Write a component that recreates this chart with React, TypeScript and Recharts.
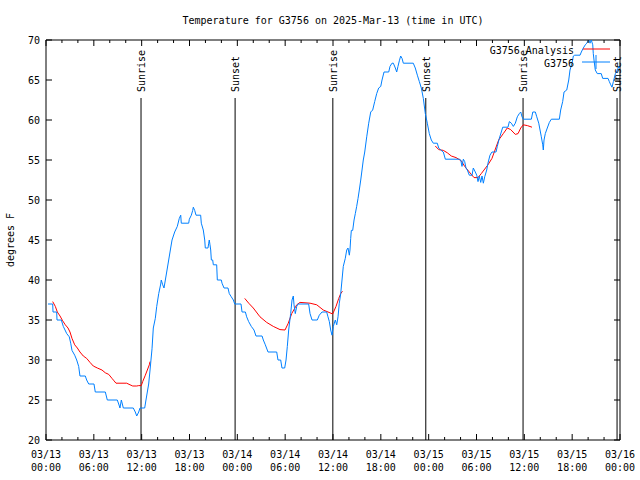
import { LineChart, Line, XAxis, YAxis, ReferenceLine, ReferenceArea } from 'recharts'

const FONT = '"DejaVu Sans Mono", "Liberation Mono", monospace'
const PLOT_LEFT = 46
const PLOT_RIGHT = 620
const PLOT_TOP = 40
const PLOT_BOTTOM = 440

// hours since 03/13 00:00 UTC
const xTicks = [0, 2, 4, 6, 8, 10, 12, 14, 16, 18, 20, 22, 24, 26, 28, 30, 32, 34, 36, 38, 40, 42, 44, 46, 48, 50, 52, 54, 56, 58, 60, 62, 64, 66, 68, 70, 72]
const tickDates = ['03/13', '03/13', '03/13', '03/13', '03/14', '03/14', '03/14', '03/14', '03/15', '03/15', '03/15', '03/15', '03/16']
const tickTimes = ['00:00', '06:00', '12:00', '18:00', '00:00', '06:00', '12:00', '18:00', '00:00', '06:00', '12:00', '18:00', '00:00']
const yTicks = [20, 25, 30, 35, 40, 45, 50, 55, 60, 65, 70]

const sunTimes = [11.92, 23.72, 35.98, 47.64, 59.84, 71.63]
const sunLabels = ['Sunrise', 'Sunset', 'Sunrise', 'Sunset', 'Sunrise', 'Sunset']
const SUN_LINE_TOP = 62.75

// observed temperature [hour, degF]
const observed: [number, number][] = [
  [0.25, 37], [0.84, 37], [0.88, 36], [1.34, 36], [1.38, 35], [1.92, 35], [2.17, 34.2], [2.6, 33.3],
  [2.92, 32.9], [3.1, 32.1], [3.26, 31.2], [3.6, 30.6], [3.85, 30], [4.1, 29.2], [4.26, 28], [4.93, 28],
  [5.1, 27.5], [5.36, 27], [6.02, 27], [6.18, 26], [7.44, 26], [7.69, 25], [8.94, 25], [9.12, 24.5],
  [9.28, 24], [9.45, 25], [9.7, 24], [10.95, 24], [11.2, 23.5], [11.38, 23], [11.63, 23.5], [11.79, 24],
  [12.38, 24], [12.54, 25], [12.71, 26], [12.88, 27], [13.05, 28.75], [13.3, 31.4], [13.46, 34], [13.71, 35.2],
  [13.89, 36.7], [14.14, 38.3], [14.39, 39.5], [14.46, 40], [14.64, 39.4], [14.8, 39], [14.97, 40], [15.14, 41],
  [15.39, 42.5], [15.64, 44], [15.81, 45], [16.14, 46], [16.47, 46.7], [16.72, 47.7], [16.9, 48.1], [16.97, 47.1],
  [17.9, 47.1], [17.98, 47.6], [18.23, 48.1], [18.4, 48.7], [18.48, 49.1], [18.65, 48.7], [18.82, 48.1], [19.4, 48.1],
  [19.48, 47.1], [19.73, 46.25], [19.91, 45], [19.98, 44], [20.32, 44], [20.41, 44.6], [20.48, 45], [20.57, 44.4],
  [20.66, 43.75], [20.74, 42.5], [20.91, 42.5], [20.99, 41.9], [21.41, 41.9], [21.49, 40], [21.99, 40], [22.08, 39.6],
  [22.33, 39], [22.83, 39], [22.99, 38.3], [23.24, 37.9], [23.5, 37.5], [23.67, 37], [24.46, 37], [24.59, 36],
  [25.01, 36], [25.17, 35.4], [25.42, 34.8], [25.75, 34.2], [26.09, 33.75], [26.34, 33], [27.1, 33], [27.26, 32.5],
  [27.51, 31.9], [27.85, 31], [28.94, 31], [29.1, 30], [29.44, 30], [29.6, 29], [29.94, 29], [30.11, 30],
  [30.27, 31.7], [30.44, 33.75], [30.69, 35.8], [30.86, 37.5], [31.02, 38], [31.11, 36.9], [31.27, 35.8], [31.45, 36.7],
  [31.61, 37], [32.95, 37], [33.12, 35.8], [33.37, 35], [34.03, 35], [34.28, 35.6], [34.62, 36], [35.21, 36],
  [35.37, 35.4], [35.54, 34.8], [35.71, 33.75], [35.88, 33.1], [36.04, 34.2], [36.29, 35], [36.47, 34.4], [36.63, 35.4],
  [36.79, 37.1], [36.97, 38.3], [37.13, 40], [37.29, 41.7], [37.54, 42.7], [37.72, 43.75], [37.88, 44], [38.05, 43.1],
  [38.13, 43.75], [38.22, 45.2], [38.3, 46.2], [38.47, 46.2], [38.64, 47.5], [38.8, 48.3], [38.97, 49.2], [39.14, 50.2],
  [39.3, 51.25], [39.48, 52.5], [39.64, 53.75], [39.8, 55], [39.98, 56], [40.23, 57.9], [40.48, 59.6], [40.73, 61],
  [40.98, 61.25], [41.23, 62.3], [41.48, 63.3], [41.73, 64], [41.99, 64.2], [42.15, 65], [42.4, 66], [42.99, 66],
  [43.15, 66.7], [43.4, 67.1], [43.57, 67.1], [43.82, 66.5], [43.99, 66], [44.15, 66.7], [44.32, 67.4], [44.49, 68],
  [44.66, 67.7], [44.82, 67.1], [46.07, 67.1], [46.32, 66.5], [46.58, 65.6], [46.83, 64.8], [47.08, 64], [47.33, 62.7],
  [47.58, 60.8], [47.83, 59.6], [48.08, 58.3], [48.33, 57.5], [48.58, 57.1], [49.08, 57.1], [49.26, 56.5], [49.51, 56.25],
  [49.84, 56], [50.09, 55.1], [51.84, 55.1], [52.02, 55], [52.18, 54.2], [52.35, 55.1], [52.52, 54.8], [52.68, 54],
  [52.85, 53.75], [53.1, 53.1], [53.44, 53.1], [53.6, 54], [53.85, 53.5], [54.03, 53.1], [54.19, 52.3], [54.35, 53],
  [54.53, 52.2], [54.69, 53], [54.86, 52.1], [55.03, 52.9], [55.28, 53.75], [55.44, 54.6], [55.69, 55.6], [55.94, 56],
  [56.45, 56], [56.61, 56.7], [56.86, 57.7], [57.11, 58.5], [57.29, 59.1], [57.95, 59.1], [58.12, 59.8], [58.37, 59.6],
  [58.62, 59.2], [58.87, 59.6], [59.12, 60.4], [59.37, 60.8], [59.55, 61], [59.71, 60.4], [59.87, 60.1], [60.88, 60.1],
  [61.06, 61], [61.38, 61], [61.56, 60.4], [61.81, 59.6], [61.97, 58.75], [62.13, 57.9], [62.31, 56.9], [62.38, 56.25],
  [62.47, 57.5], [62.63, 58.3], [62.88, 59], [63.14, 59.7], [63.39, 60.1], [64.39, 60.1], [64.56, 61.25], [64.81, 62.3],
  [64.98, 63.5], [65.32, 63.75], [65.57, 65], [65.73, 66.25], [65.98, 67.1], [66.15, 68], [66.32, 68.1], [66.99, 68.1],
  [67.15, 68.5], [67.4, 69], [67.65, 69.4], [67.83, 69.6], [68.08, 70], [68.24, 69.6], [68.4, 70], [68.58, 69.4],
  [68.65, 68.3], [68.74, 67.5], [68.9, 66.25], [69.15, 65.8], [69.65, 65.8], [69.83, 65.2], [70.5, 65.2], [70.66, 64.8],
  [70.84, 64.4], [71.0, 64.1], [71.17, 64.8], [71.42, 65.8], [71.67, 66.25], [71.85, 66.7], [72.0, 66.5],
]

// model analysis, three separate runs
const analysisDay1: [number, number][] = [
  [0.84, 37.3], [1.17, 36.7], [1.42, 36], [1.76, 35.5], [2.09, 34.9], [2.42, 34.4], [2.76, 34], [3.01, 33.5],
  [3.26, 32.7], [3.6, 31.9], [3.93, 31.5], [4.26, 31], [4.68, 30.5], [5.1, 30.2], [5.52, 29.7], [5.93, 29.25],
  [6.44, 29], [7.02, 28.75], [7.44, 28.4], [7.87, 28.2], [8.28, 27.7], [8.53, 27.4], [8.78, 27.1], [10.12, 27.1],
  [10.54, 26.9], [10.88, 26.75], [11.38, 26.75], [11.63, 26.8], [11.95, 26.8], [12.13, 27.3], [12.46, 28.1], [12.71, 28.75],
  [12.96, 29.4], [13.05, 29.8],
]
const analysisDay2: [number, number][] = [
  [24.93, 37.7], [25.43, 37.1], [26.0, 36.5], [26.84, 35.4], [27.68, 34.7], [28.51, 34.2], [29.35, 33.8], [29.98, 33.75],
  [30.39, 34.6], [30.82, 35.8], [31.45, 36.9], [31.86, 37.2], [33.12, 37.1], [33.96, 36.9], [34.78, 36.25], [35.62, 35.9],
  [35.96, 35.75], [36.38, 36.7], [36.72, 37.7], [36.97, 38.3], [37.19, 38.6],
]
const analysisDay3: [number, number][] = [
  [48.83, 56.75], [49.26, 56.3], [49.84, 56.2], [50.34, 55.9], [50.84, 55.5], [51.43, 55.3], [52.09, 54.9], [52.52, 54.2],
  [53.1, 53.5], [53.69, 52.8], [54.19, 52.8], [54.6, 53.3], [54.94, 53.75], [55.44, 54.4], [55.94, 55.2], [56.78, 57.5],
  [57.36, 58.3], [57.86, 59], [58.29, 58.8], [58.87, 58.2], [59.21, 58.3], [59.55, 59], [59.87, 59.4], [60.38, 59.3],
  [60.96, 59.1],
]

const toRows = (pts: [number, number][]) => pts.map(([t, v]) => ({ t, v }))

const XTick = ({ x, payload }: any) => {
  const h = payload.value as number
  const major = h % 6 === 0
  const len = major ? 6 : 3
  const i = h / 6
  return (
    <g>
      <line x1={x} x2={x} y1={PLOT_BOTTOM} y2={PLOT_BOTTOM - len} stroke="#000" />
      <line x1={x} x2={x} y1={PLOT_TOP} y2={PLOT_TOP + len} stroke="#000" />
      {major && (
        <text textAnchor="middle" fontFamily={FONT} fontSize={10} fill="#000">
          <tspan x={x} y={PLOT_BOTTOM + 18}>{tickDates[i]}</tspan>
          <tspan x={x} y={PLOT_BOTTOM + 31}>{tickTimes[i]}</tspan>
        </text>
      )}
    </g>
  )
}

const YTick = ({ y, payload }: any) => (
  <g>
    <line x1={PLOT_LEFT} x2={PLOT_LEFT + 6} y1={y} y2={y} stroke="#000" />
    <line x1={PLOT_RIGHT} x2={PLOT_RIGHT - 6} y1={y} y2={y} stroke="#000" />
    <text x={PLOT_LEFT - 6} y={y + 4} textAnchor="end" fontFamily={FONT} fontSize={10} fill="#000">
      {payload.value}
    </text>
  </g>
)

const YLabel = ({ viewBox }: any) => {
  const cy = (viewBox?.y ?? PLOT_TOP) + (viewBox?.height ?? 400) / 2
  return (
    <text x={14} y={cy} transform={`rotate(-90 14 ${cy})`} textAnchor="middle" fontFamily={FONT} fontSize={10} fill="#000">
      degrees F
    </text>
  )
}

const SunLabel = ({ viewBox, text }: any) => {
  const x = (viewBox?.x ?? 0) + 4
  const y = (viewBox?.y ?? 98) - 6
  return (
    <text x={x} y={y} transform={`rotate(-90 ${x} ${y})`} textAnchor="start" fontFamily={FONT} fontSize={10} fill="#000">
      {text}
    </text>
  )
}

export default function App() {
  return (
    <div style={{ position: 'absolute', left: 0, top: 0, width: 640, height: 480, background: '#fff' }}>
      <LineChart width={640} height={480} margin={{ top: PLOT_TOP, right: 640 - PLOT_RIGHT, bottom: 0, left: 0 }}>
        <XAxis
          dataKey="t"
          type="number"
          domain={[0, 72]}
          ticks={xTicks}
          interval={0}
          height={40}
          axisLine={false}
          tickLine={false}
          tickSize={0}
          tick={<XTick />}
          allowDataOverflow
        />
        <YAxis
          type="number"
          domain={[20, 70]}
          ticks={yTicks}
          interval={0}
          width={PLOT_LEFT}
          axisLine={false}
          tickLine={false}
          tickSize={0}
          tick={<YTick />}
          label={<YLabel />}
          allowDataOverflow
        />
        {sunTimes.map((t, i) => (
          <ReferenceLine
            key={`sun-${i}`}
            segment={[{ x: t, y: SUN_LINE_TOP }, { x: t, y: 20 }]}
            stroke="#000"
            strokeWidth={1}
            label={<SunLabel text={sunLabels[i]} />}
          />
        ))}
        {[analysisDay1, analysisDay2, analysisDay3].map((pts, i) => (
          <Line
            key={`an-${i}`}
            data={toRows(pts)}
            dataKey="v"
            type="linear"
            stroke="#ff0000"
            strokeWidth={1}
            dot={false}
            isAnimationActive={false}
          />
        ))}
        <Line
          data={toRows(observed)}
          dataKey="v"
          type="linear"
          stroke="#0080ff"
          strokeWidth={1}
          dot={false}
          isAnimationActive={false}
        />
        <ReferenceArea x1={0} x2={72} y1={20} y2={70} fill="none" stroke="#000" strokeWidth={1} />
      </LineChart>
      <svg width={640} height={480} style={{ position: 'absolute', left: 0, top: 0, pointerEvents: 'none' }}>
        <text x={333} y={24} textAnchor="middle" fontFamily={FONT} fontSize={10} fill="#000">
          Temperature for G3756 on 2025-Mar-13 (time in UTC)
        </text>
        <text x={574} y={54} textAnchor="end" fontFamily={FONT} fontSize={10} fill="#000">G3756 Analysis</text>
        <line x1={583} x2={610} y1={49} y2={49} stroke="#ff0000" />
        <text x={574} y={67} textAnchor="end" fontFamily={FONT} fontSize={10} fill="#000">G3756</text>
        <line x1={582} x2={610} y1={62} y2={62} stroke="#0080ff" />
        <line x1={596} x2={596} y1={55} y2={69} stroke="#0080ff" />
      </svg>
    </div>
  )
}
